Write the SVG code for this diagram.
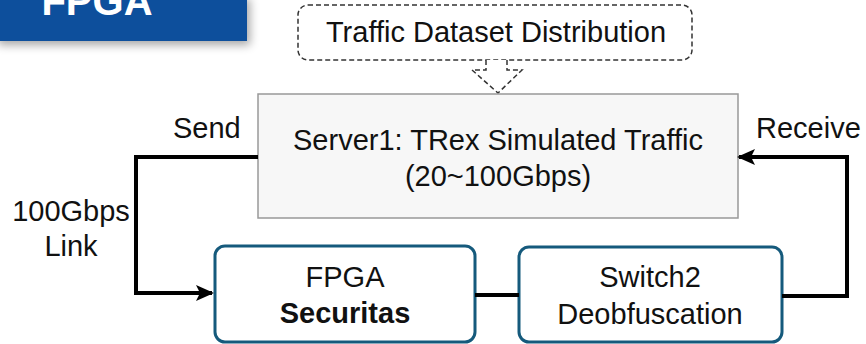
<svg xmlns="http://www.w3.org/2000/svg" width="866" height="344" viewBox="0 0 866 344">
<defs>
<style>
text{font-family:"Liberation Sans",Arial,sans-serif;font-size:29px;fill:#111}
.node{fill:#fff;stroke:#155a7c;stroke-width:3}
.conn{fill:none;stroke:#000;stroke-width:4}
.dash{fill:#fff;stroke:#333;stroke-width:1.5;stroke-dasharray:5 3}
</style>
<marker id="ah" markerWidth="18" markerHeight="16" refX="16" refY="8" orient="auto" markerUnits="userSpaceOnUse" viewBox="0 0 18 16">
<path d="M0,0 L18,8 L0,16 L4,8 Z" fill="#000"/>
</marker>
<filter id="sh" x="-10%" y="-30%" width="130%" height="200%">
<feGaussianBlur in="SourceAlpha" stdDeviation="5"/>
<feOffset dx="3" dy="4"/>
<feComponentTransfer><feFuncA type="linear" slope="0.35"/></feComponentTransfer>
<feMerge><feMergeNode/><feMergeNode in="SourceGraphic"/></feMerge>
</filter>
</defs>
<rect width="866" height="344" fill="#fff"/>
<g id="banner">
<rect x="-5" y="-5" width="252" height="46" fill="#0b4f9c" filter="url(#sh)"/>
<text x="97" y="15" text-anchor="middle" style="font-size:40px;font-weight:bold;fill:#fff">FPGA</text>
</g>
<g id="dataset">
<rect class="dash" x="298" y="5" width="394" height="55" rx="10"/>
<text x="496" y="42" text-anchor="middle">Traffic Dataset Distribution</text>
<path class="dash" d="M486,60 L486,70 L472,70 L498,93 L522,70 L507,70 L507,60"/>
</g>
<g id="server">
<rect x="258" y="94" width="480" height="124" fill="#f7f7f7" stroke="#999" stroke-width="1.5"/>
<text x="498" y="150" text-anchor="middle">Server1: TRex Simulated Traffic</text>
<text x="498" y="186" text-anchor="middle">(20~100Gbps)</text>
</g>
<g id="fpga">
<rect class="node" x="215" y="246" width="260" height="96" rx="10"/>
<text x="345" y="287" text-anchor="middle">FPGA</text>
<text x="345" y="323" text-anchor="middle" style="font-weight:bold">Securitas</text>
</g>
<g id="switch2">
<rect class="node" x="519" y="247" width="263" height="95" rx="10"/>
<text x="650" y="287" text-anchor="middle">Switch2</text>
<text x="650" y="324" text-anchor="middle">Deobfuscation</text>
</g>
<g id="connectors">
<path class="conn" d="M258,157 L136,157 L136,293 L212,293" marker-end="url(#ah)"/>
<path class="conn" d="M475,295 L519,295"/>
<path class="conn" d="M782,296 L847,296 L847,157 L739,157" marker-end="url(#ah)"/>
</g>
<g id="labels">
<text x="173" y="138">Send</text>
<text x="756" y="138">Receive</text>
<text x="71" y="221" text-anchor="middle">100Gbps</text>
<text x="71" y="256" text-anchor="middle">Link</text>
</g>
</svg>
